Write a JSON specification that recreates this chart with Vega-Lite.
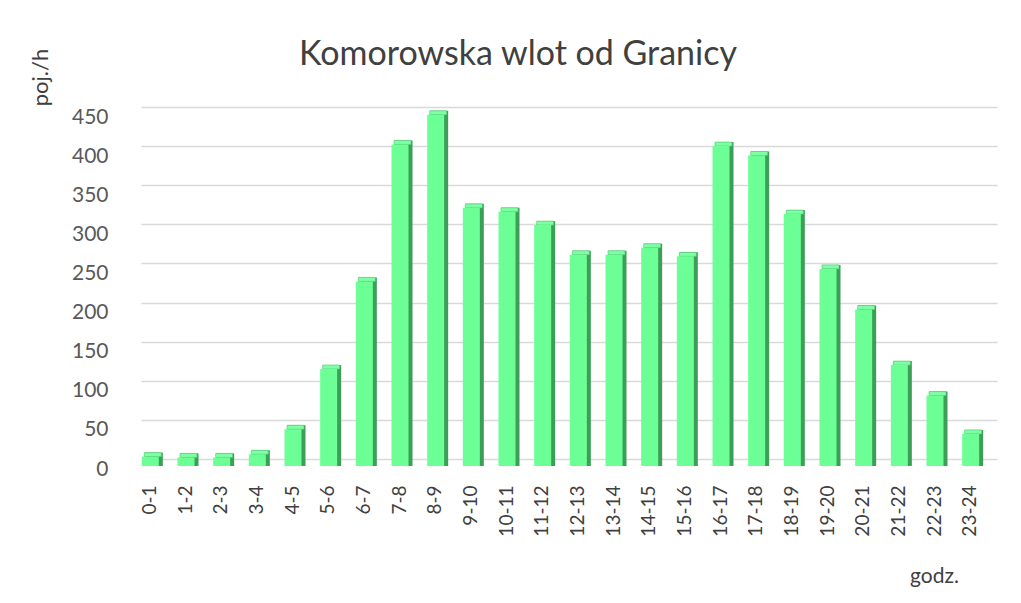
{
  "$schema": "https://vega.github.io/schema/vega-lite/v6.json",
  "autosize": {"type": "none"},
  "width": 856,
  "height": 352,
  "padding": {"left": 141, "top": 107, "right": 24, "bottom": 144},
  "background": "white",
  "config": {"view": {"stroke": null}},
  "title": {
    "text": "Komorowska wlot od Granicy",
    "font": "Lato",
    "fontSize": 34,
    "fontWeight": "normal",
    "color": "#404040",
    "anchor": "middle",
    "frame": "group",
    "dx": -51,
    "offset": 0,
    "dy": 24
  },
  "data": {
    "values": [
      {"godz": "0-1", "poj": 12},
      {"godz": "1-2", "poj": 11},
      {"godz": "2-3", "poj": 11},
      {"godz": "3-4", "poj": 15},
      {"godz": "4-5", "poj": 47},
      {"godz": "5-6", "poj": 124},
      {"godz": "6-7", "poj": 236},
      {"godz": "7-8", "poj": 411},
      {"godz": "8-9", "poj": 449},
      {"godz": "9-10", "poj": 330},
      {"godz": "10-11", "poj": 325},
      {"godz": "11-12", "poj": 308},
      {"godz": "12-13", "poj": 270},
      {"godz": "13-14", "poj": 270},
      {"godz": "14-15", "poj": 279},
      {"godz": "15-16", "poj": 268},
      {"godz": "16-17", "poj": 409},
      {"godz": "17-18", "poj": 397},
      {"godz": "18-19", "poj": 322},
      {"godz": "19-20", "poj": 252},
      {"godz": "20-21", "poj": 200},
      {"godz": "21-22", "poj": 129},
      {"godz": "22-23", "poj": 90},
      {"godz": "23-24", "poj": 41}
    ]
  },
  "encoding": {
    "x": {
      "field": "godz",
      "type": "ordinal",
      "sort": null,
      "scale": {"paddingInner": 0, "paddingOuter": 0},
      "axis": {
        "title": "godz.",
        "titleFont": "Lato",
        "titleFontSize": 21,
        "titleFontWeight": "normal",
        "titleColor": "#404040",
        "titleX": 793,
        "titleY": 117,
        "titleAlign": "center",
        "titleBaseline": "middle",
        "labelAngle": -90,
        "labelFont": "Lato",
        "labelFontSize": 19,
        "labelColor": "#404040",
        "labelPadding": 26,
        "labelOffset": -9,
        "ticks": false,
        "tickSize": 0,
        "domain": false,
        "grid": false
      }
    },
    "y": {
      "field": "poj",
      "type": "quantitative",
      "scale": {"domain": [0, 450], "nice": false},
      "axis": {
        "title": "poj./h",
        "titleFont": "Lato",
        "titleFontSize": 22,
        "titleFontWeight": "normal",
        "titleColor": "#404040",
        "titleX": -101,
        "titleY": -30,
        "titleAlign": "center",
        "titleBaseline": "middle",
        "titleAngle": -90,
        "values": [0, 50, 100, 150, 200, 250, 300, 350, 400, 450],
        "labelFont": "Lato",
        "labelFontSize": 21,
        "labelColor": "#595959",
        "labelPadding": 33,
        "labelOffset": 10,
        "ticks": false,
        "tickSize": 0,
        "domain": false,
        "grid": true,
        "gridColor": "#d9d9d9",
        "gridWidth": 1.5
      }
    }
  },
  "layer": [
    {
      "mark": {"type": "bar", "size": 18, "xOffset": -5, "yOffset": 3, "y2Offset": 7, "color": "#3c9e57"},
      "encoding": {"y2": {"datum": 0}}
    },
    {
      "mark": {"type": "bar", "size": 17, "xOffset": -6, "yOffset": 3, "y2Offset": 7, "color": "#7dffa3", "stroke": "#4fc873", "strokeWidth": 0.6},
      "encoding": {"y2": {"field": "poj"}}
    },
    {
      "mark": {"type": "bar", "size": 17, "xOffset": -8.5, "yOffset": 7, "y2Offset": 7, "color": "#6bff95"},
      "encoding": {"y2": {"datum": 0}}
    }
  ]
}
